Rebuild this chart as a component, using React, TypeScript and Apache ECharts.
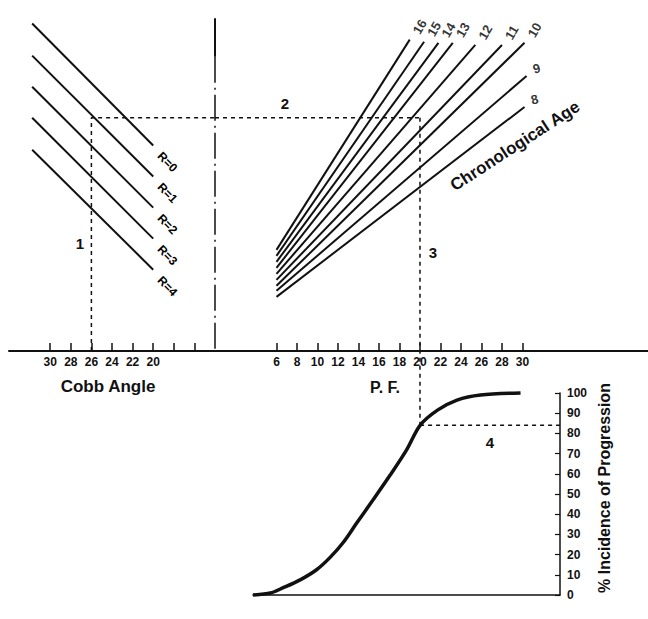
import React, { useEffect, useRef } from "react";
import * as echarts from "echarts";

// ---- Axis ticks / labels ----
const cobbTicks = [30, 28, 26, 24, 22, 20, 18, 16];
const cobbLabels = [30, 28, 26, 24, 22, 20];
const pfTicks = [6, 8, 10, 12, 14, 16, 18, 20, 22, 24, 26, 28, 30];
const pctTicks = [0, 10, 20, 30, 40, 50, 60, 70, 80, 90, 100];

// ---- Risser lines (Cobb angle vs. intermediate value I) ----
const risserNames = ["R=0", "R=1", "R=2", "R=3", "R=4"];
const risserStartCobb = 31.75;
const risserEndCobb = 20;
const risserStartI = [31.8, 28.8, 25.9, 23.0, 20.0];
const risserEndI = [20.4, 17.5, 14.6, 11.7, 8.8];

// ---- Chronological age lines (P.F. vs. intermediate value I) ----
const ageNames = ["8", "9", "10", "11", "12", "13", "14", "15", "16"];
const ageStartPF = 6;
const ageStartI = [6.26, 6.82, 7.29, 7.85, 8.41, 8.97, 9.53, 10.09, 10.65];
const ageEndPF = [30.2, 30.4, 30.2, 28.0, 25.4, 23.2, 21.8, 20.4, 19.0];
const ageEndI = [24.0, 26.9, 30.0, 29.8, 29.8, 30.0, 30.0, 30.1, 30.3];

// ---- % incidence of progression curve ----
const curvePF = [3.7, 5.4, 6.6, 8.3, 9.9, 11.2, 12.5, 13.8, 15.4, 17.1, 18.7, 20.0, 21.7, 23.6, 25.9, 29.8];
const curvePct = [0, 1, 3.5, 7.5, 12.5, 18.5, 26, 35.5, 47, 59.5, 72, 84, 91.5, 96.5, 99, 100];

// ---- Worked example (dashed guide) ----
const exampleCobb = 26;
const exampleI = 23;
const examplePF = 20;
const examplePct = 84;

// ---- Quadrant divider ----
const dividerCobb = 14;
const dividerTopI = 32.3;
const dividerSolidEndI = 28.7;

// ---- Axis ranges ----
const cobbMin = 14;
const cobbMax = 34;
const pfMaxTop = 42.25;
const pfMinBottom = 3.7;
const pfMaxBottom = 33.65;
const iMin = 1.2;
const iMax = 34;

export default function App() {
  const ref = useRef<HTMLDivElement>(null);

  useEffect(() => {
    document.body.style.margin = "0";
    const chart = echarts.init(ref.current!, null, { renderer: "svg" });
    const font = "Liberation Sans";
    const ink = "#111";

    const line = (xi: number, data: number[][], extra: any = {}) => ({
      type: "line",
      xAxisIndex: xi,
      yAxisIndex: xi,
      data,
      symbol: "none",
      silent: true,
      clip: false,
      lineStyle: { color: ink, width: 2 },
      ...extra,
    });

    const dashed = { lineStyle: { color: ink, width: 1.5, type: [4, 4] } };

    const series: any[] = [];

    risserNames.forEach((name, i) => {
      series.push(line(0, [[risserStartCobb, risserStartI[i]], [risserEndCobb, risserEndI[i]]]));
    });
    series.push({
      type: "scatter",
      xAxisIndex: 0,
      yAxisIndex: 0,
      symbolSize: 1,
      itemStyle: { color: "rgba(0,0,0,0)" },
      silent: true,
      data: risserNames.map((n, i) => ({
        value: [risserEndCobb, risserEndI[i]],
        name: n,
      })),
      label: {
        show: true,
        formatter: (p: any) => p.name,
        position: [7, 9],
        rotate: -46,
        align: "left",
        verticalAlign: "middle",
        fontFamily: font,
        fontWeight: "bold",
        fontSize: 12,
        color: "#000",
        opacity: 1,
      },
    });

    ageNames.forEach((name, i) => {
      series.push(line(1, [[ageStartPF, ageStartI[i]], [ageEndPF[i], ageEndI[i]]]));
    });
    series.push({
      type: "scatter",
      xAxisIndex: 1,
      yAxisIndex: 1,
      symbolSize: 1,
      itemStyle: { color: "rgba(0,0,0,0)" },
      silent: true,
      data: ageNames.map((n, i) => ({
        value: [ageEndPF[i], ageEndI[i]],
        name: n,
        label: { rotate: Number(n) >= 10 ? 60 : 15 },
      })),
      label: {
        show: true,
        formatter: (p: any) => p.name,
        position: [7, -6],
        align: "left",
        verticalAlign: "middle",
        fontFamily: font,
        fontWeight: "bold",
        fontSize: 13,
        color: "#000",
      },
    });

    // curve
    series.push({
      type: "line",
      xAxisIndex: 2,
      yAxisIndex: 2,
      data: curvePF.map((x, i) => [x, curvePct[i]]),
      symbol: "none",
      smooth: 0.3,
      silent: true,
      clip: false,
      lineStyle: { color: ink, width: 3.5 },
    });

    // guides
    series.push(line(0, [[exampleCobb, iMin], [exampleCobb, exampleI], [cobbMin, exampleI]], dashed));
    series.push(line(1, [[0, exampleI], [examplePF, exampleI]], dashed));
    series.push(line(2, [[examplePF, examplePct], [pfMaxBottom, examplePct]], dashed));

    // divider
    series.push(line(0, [[dividerCobb, dividerTopI], [dividerCobb, dividerSolidEndI]], { lineStyle: { color: ink, width: 2 } }));
    series.push(line(0, [[dividerCobb, dividerSolidEndI], [dividerCobb, iMin]], { lineStyle: { color: ink, width: 1.5, type: [26, 5, 2, 5] } }));

    const tickLabel = { fontFamily: font, fontWeight: "bold", fontSize: 12, color: ink };
    const axisLine = { show: true, onZero: false, lineStyle: { color: ink, width: 2 } };

    const txt = (text: string, x: number, y: number, size: number, rot = 0) => ({
      type: "text",
      x,
      y,
      rotation: (rot * Math.PI) / 180,
      silent: true,
      style: {
        text,
        fill: ink,
        fontFamily: font,
        fontWeight: "bold",
        fontSize: size,
        align: "center",
        verticalAlign: "middle",
      },
    });

    chart.setOption({
      animation: false,
      backgroundColor: "#fff",
      grid: [
        { left: 9, top: 0, width: 206, height: 351 },
        { left: 215, top: 0, width: 433, height: 351 },
        { left: 253, top: 393, width: 307, height: 202 },
      ],
      xAxis: [
        {
          gridIndex: 0, type: "value", inverse: true, min: cobbMin, max: cobbMax,
          axisLine,
          axisTick: { show: true, inside: true, length: 8, customValues: cobbTicks, lineStyle: { color: ink, width: 1.5 } },
          axisLabel: { show: true, customValues: cobbLabels, margin: 5, ...tickLabel },
          splitLine: { show: false },
        },
        {
          gridIndex: 1, type: "value", min: 0, max: pfMaxTop,
          axisLine,
          axisTick: { show: true, inside: true, length: 8, customValues: pfTicks, lineStyle: { color: ink, width: 1.5 } },
          axisLabel: { show: true, customValues: pfTicks, margin: 5, ...tickLabel },
          splitLine: { show: false },
        },
        {
          gridIndex: 2, type: "value", min: pfMinBottom, max: pfMaxBottom,
          axisLine: { show: true, onZero: false, lineStyle: { color: ink, width: 1.5 } },
          axisTick: { show: false }, axisLabel: { show: false }, splitLine: { show: false },
        },
      ],
      yAxis: [
        { gridIndex: 0, type: "value", min: iMin, max: iMax, show: false },
        { gridIndex: 1, type: "value", min: iMin, max: iMax, show: false },
        {
          gridIndex: 2, type: "value", position: "right", min: 0, max: 100, interval: 10,
          axisLine: { show: true, onZero: false, lineStyle: { color: ink, width: 1.5 } },
          axisTick: { show: true, inside: true, length: 5, customValues: pctTicks, lineStyle: { color: ink, width: 1.2 } },
          axisLabel: { show: true, margin: 7, ...tickLabel },
          splitLine: { show: false },
        },
      ],
      series,
      graphic: [
        txt("1", 80, 243, 15),
        txt("2", 285, 103, 15),
        txt("3", 433, 252, 15),
        txt("4", 490, 442, 15),
        txt("Cobb Angle", 108, 386, 17),
        txt("P. F.", 385, 387, 16),
        txt("Chronological Age", 515, 146, 17, 33),
        txt("% Incidence of Progression", 604, 488, 16, 90),
      ],
    });

    // vertical guide 3 runs from the top quadrant down to the curve
    const p = chart.convertToPixel({ gridIndex: 2 }, [examplePF, examplePct]) as number[];
    const low = chart.convertFromPixel({ gridIndex: 1 }, p) as number[];
    series.push(line(1, [[examplePF, exampleI], [examplePF, low[1]]], dashed));
    chart.setOption({ series });

    return () => chart.dispose();
  }, []);

  return <div ref={ref} style={{ width: 648, height: 619 }} />;
}
